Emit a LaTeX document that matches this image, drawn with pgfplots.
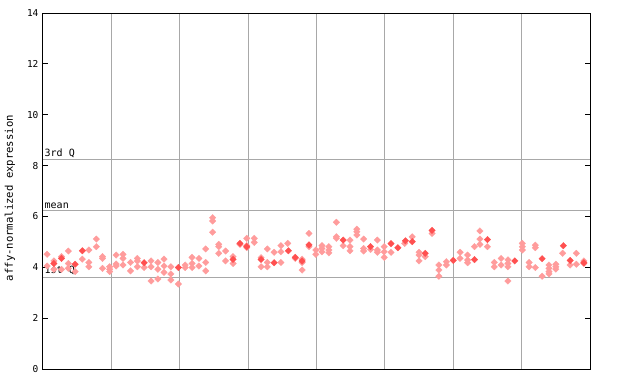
\documentclass[border=0pt]{standalone}
\usepackage{pgfplots}
\pgfplotsset{compat=1.18}
\usepackage{pgfplotstable}
\usepackage{fontspec}
\setmainfont{DejaVu Sans Mono}
\definecolor{ptred}{HTML}{FF5050}
\definecolor{ptpink}{HTML}{FF9C9C}
\definecolor{gridgray}{HTML}{A8A8A8}

\pgfplotstableread{
x y
0.06 4.51
0.06 4.05
0.16 4.25
0.16 3.92
0.27 4.42
0.27 3.92
0.37 4.64
0.37 4.15
0.37 3.96
0.47 3.83
0.575 4.32
0.67 4.68
0.67 4.19
0.67 4.02
0.78 5.11
0.78 4.81
0.87 4.42
0.87 4.35
0.87 3.96
0.975 4.02
0.975 3.92
0.975 3.83
1.07 4.48
1.07 4.13
1.07 4.05
1.17 4.51
1.17 4.35
1.17 4.09
1.28 4.19
1.28 3.86
1.38 4.35
1.38 4.25
1.38 4.02
1.48 3.99
1.58 4.25
1.58 4.02
1.58 3.46
1.68 4.19
1.68 3.92
1.68 3.54
1.77 4.32
1.77 4.05
1.77 3.80
1.87 4.02
1.87 3.74
1.87 3.50
1.98 3.34
2.08 4.09
2.08 3.99
2.18 4.39
2.18 4.15
2.18 3.99
2.28 4.35
2.28 4.05
2.38 4.72
2.38 4.19
2.38 3.86
2.48 5.95
2.48 5.82
2.48 5.38
2.57 4.90
2.57 4.81
2.57 4.55
2.67 4.64
2.67 4.25
2.78 4.42
2.78 4.15
2.88 4.90
2.98 5.14
2.98 4.85
2.98 4.77
3.09 5.14
3.09 4.98
3.19 4.38
3.19 4.02
3.28 4.72
3.28 4.19
3.28 4.02
3.38 4.59
3.48 4.85
3.48 4.61
3.48 4.19
3.58 4.94
3.69 4.35
3.79 4.32
3.79 4.19
3.79 3.89
3.89 5.33
3.89 4.81
3.99 4.68
3.99 4.51
4.08 4.85
4.08 4.74
4.08 4.61
4.18 4.81
4.18 4.68
4.18 4.57
4.29 5.77
4.29 5.20
4.29 5.14
4.39 4.85
4.49 5.07
4.49 4.81
4.49 4.65
4.59 5.50
4.59 5.40
4.59 5.27
4.69 5.11
4.69 4.74
4.69 4.64
4.79 4.70
4.89 5.07
4.89 4.68
4.89 4.59
4.99 4.81
4.99 4.61
4.99 4.39
5.09 4.59
5.29 4.94
5.40 5.20
5.50 4.59
5.50 4.48
5.50 4.25
5.59 4.42
5.69 5.33
5.79 4.09
5.79 3.89
5.79 3.65
5.90 4.22
5.90 4.09
6.10 4.59
6.10 4.35
6.21 4.48
6.21 4.29
6.21 4.18
6.31 4.81
6.39 5.43
6.39 5.11
6.39 4.90
6.50 4.81
6.60 4.19
6.60 4.02
6.70 4.35
6.70 4.09
6.80 4.29
6.80 4.15
6.80 4.02
6.80 3.46
7.01 4.94
7.01 4.81
7.01 4.68
7.11 4.19
7.11 4.02
7.20 4.87
7.20 4.77
7.20 3.99
7.30 3.65
7.40 4.09
7.40 3.96
7.40 3.83
7.40 3.74
7.50 4.12
7.50 4.02
7.50 3.93
7.60 4.55
7.71 4.09
7.80 4.55
7.80 4.12
7.91 4.25
7.91 4.15
}\dithered

\pgfplotstableread{
x y
0.16 4.15
0.27 4.35
0.47 4.12
0.575 4.65
1.48 4.18
1.98 3.99
2.78 4.31
2.88 4.94
2.98 4.81
3.19 4.31
3.38 4.18
3.59 4.65
3.69 4.39
3.79 4.25
3.89 4.88
4.39 5.07
4.79 4.81
5.09 4.93
5.19 4.77
5.30 5.04
5.40 5.01
5.59 4.55
5.69 5.45
6.00 4.27
6.31 4.30
6.50 5.09
6.90 4.25
7.30 4.34
7.61 4.85
7.71 4.27
7.91 4.18
}\solid

\begin{document}
\begin{tikzpicture}
\useasboundingbox (-43pt,-15pt) rectangle (597pt,369pt);
\begin{axis}[
  at={(0,0)}, anchor=south west,
  scale only axis,
  width=547pt, height=356pt,
  xmin=0, xmax=8, ymin=0, ymax=14,
  xtick={1,2,3,4,5,6,7}, xticklabels={},
  xmajorgrids,
  major x tick style={draw=none},
  ytick={0,2,4,6,8,10,12,14},
  ytick pos=both,
  tick align=inside,
  major tick length=5pt,
  tick style={black, line width=0.8pt},
  grid style={gridgray, line width=0.9pt},
  axis line style={black, line width=1pt},
  yticklabel style={font=\fontsize{9.5}{10}\selectfont, xshift=-1pt},
  /pgf/number format/assume math mode=true,
  ylabel={affy-normalized expression},
  ylabel style={font=\fontsize{10.6}{11}\selectfont, at={(axis description cs:-0.0605,0.48)}, anchor=center},
  clip=false,
]
\addplot[gridgray, line width=0.9pt, no marks] coordinates {(0,3.62) (8,3.62)};
\addplot[gridgray, line width=0.9pt, no marks] coordinates {(0,6.22) (8,6.22)};
\addplot[gridgray, line width=0.9pt, no marks] coordinates {(0,8.23) (8,8.23)};
\addplot[only marks, mark=square*, mark size=2.3pt, mark options={rotate=45, fill=ptpink, draw=ptpink, line width=0.3pt}] table[x=x, y=y] {\dithered};
\addplot[only marks, mark=square*, mark size=2.3pt, mark options={rotate=45, fill=ptred, draw=ptred, line width=0.3pt}] table[x=x, y=y] {\solid};
\node[anchor=south west, inner sep=0pt, xshift=1.5pt, yshift=1.5pt, font=\fontsize{10}{11}\selectfont] at (axis cs:0,3.62) {1st Q};
\node[anchor=south west, inner sep=0pt, xshift=1.5pt, yshift=1.5pt, font=\fontsize{10}{11}\selectfont] at (axis cs:0,6.22) {mean};
\node[anchor=south west, inner sep=0pt, xshift=1.5pt, yshift=1.5pt, font=\fontsize{10}{11}\selectfont] at (axis cs:0,8.23) {3rd Q};
\end{axis}
\end{tikzpicture}
\end{document}
